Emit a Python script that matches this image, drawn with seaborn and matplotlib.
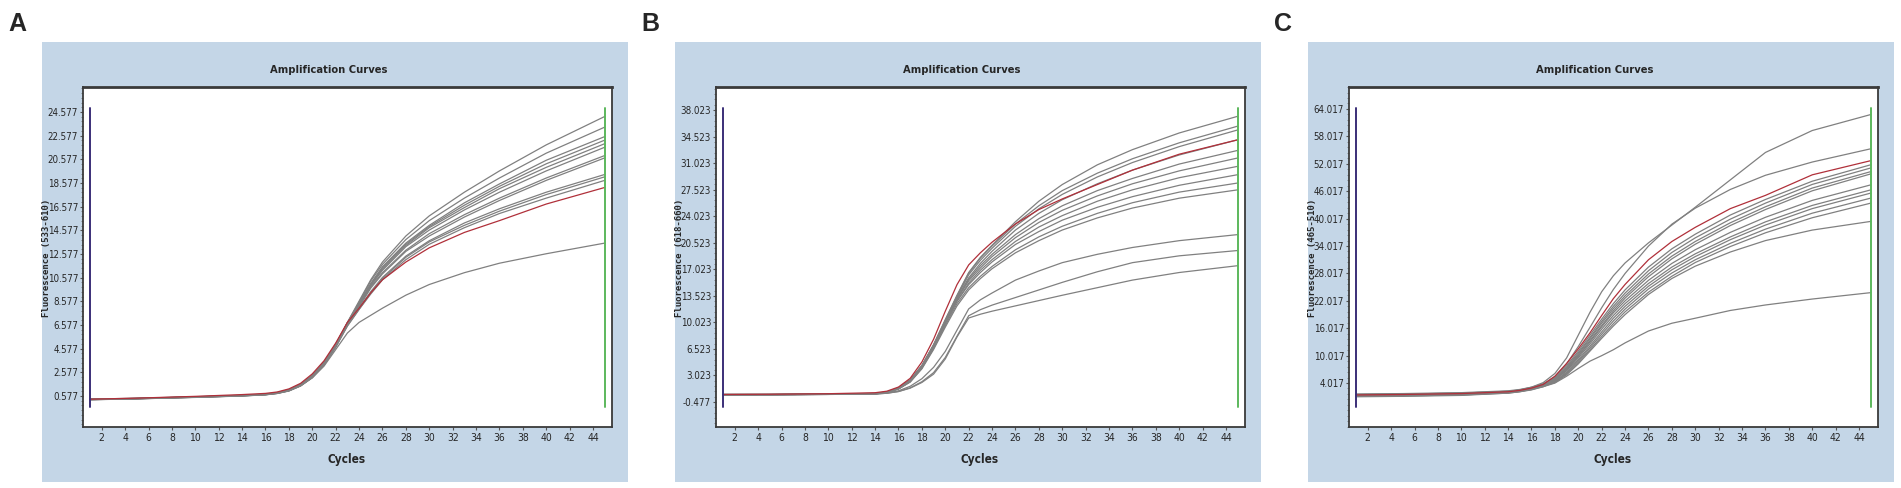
import numpy as np
import pandas as pd
import seaborn as sns
import matplotlib.pyplot as plt
from matplotlib.patches import Rectangle
from matplotlib.ticker import FixedLocator, AutoMinorLocator, FuncFormatter

# ---- panel A (533-610) ----
cycles_a = [1, 5, 10, 14, 16, 17, 18, 19, 20, 21, 22, 23, 24, 25, 26, 28, 30, 33, 36, 40, 45]
gray_a = [
    [0.28, 0.36, 0.48, 0.60, 0.70, 0.82, 1.05, 1.50, 2.25, 3.35, 4.90, 6.80, 8.6, 10.4, 11.9, 14.1, 15.8, 17.8, 19.6, 21.8, 24.2],
    [0.30, 0.37, 0.50, 0.62, 0.72, 0.84, 1.08, 1.52, 2.28, 3.38, 4.92, 6.78, 8.5, 10.3, 11.7, 13.8, 15.4, 17.3, 19.0, 21.1, 23.3],
    [0.26, 0.34, 0.47, 0.59, 0.69, 0.80, 1.02, 1.46, 2.20, 3.30, 4.85, 6.72, 8.4, 10.1, 11.5, 13.5, 15.0, 16.9, 18.5, 20.5, 22.5],
    [0.31, 0.38, 0.51, 0.63, 0.73, 0.86, 1.10, 1.55, 2.30, 3.40, 4.95, 6.75, 8.4, 10.0, 11.4, 13.4, 14.9, 16.7, 18.3, 20.2, 22.2],
    [0.29, 0.36, 0.49, 0.61, 0.71, 0.83, 1.06, 1.49, 2.22, 3.32, 4.86, 6.70, 8.3, 10.0, 11.3, 13.3, 14.8, 16.5, 18.1, 19.9, 21.9],
    [0.27, 0.35, 0.48, 0.60, 0.70, 0.81, 1.03, 1.45, 2.16, 3.24, 4.78, 6.64, 8.3, 9.9, 11.2, 13.2, 14.6, 16.3, 17.8, 19.6, 21.6],
    [0.32, 0.39, 0.52, 0.64, 0.74, 0.87, 1.12, 1.58, 2.34, 3.44, 4.96, 6.70, 8.2, 9.8, 11.0, 12.9, 14.3, 15.9, 17.3, 19.0, 20.9],
    [0.28, 0.35, 0.47, 0.59, 0.68, 0.79, 1.00, 1.42, 2.12, 3.18, 4.72, 6.58, 8.1, 9.7, 10.9, 12.8, 14.1, 15.7, 17.1, 18.8, 20.7],
    [0.30, 0.37, 0.50, 0.62, 0.72, 0.85, 1.09, 1.53, 2.26, 3.34, 4.84, 6.60, 8.0, 9.4, 10.6, 12.4, 13.7, 15.2, 16.4, 17.8, 19.3],
    [0.29, 0.36, 0.49, 0.61, 0.71, 0.83, 1.05, 1.47, 2.18, 3.24, 4.74, 6.52, 7.9, 9.3, 10.5, 12.3, 13.6, 15.0, 16.2, 17.6, 19.1],
    [0.27, 0.34, 0.46, 0.58, 0.68, 0.80, 1.02, 1.44, 2.14, 3.20, 4.70, 6.48, 7.9, 9.2, 10.4, 12.1, 13.4, 14.8, 16.0, 17.3, 18.8],
    [0.30, 0.37, 0.50, 0.62, 0.72, 0.84, 1.06, 1.46, 2.12, 3.10, 4.50, 5.90, 6.8, 7.4, 8.0, 9.1, 10.0, 11.0, 11.8, 12.6, 13.5],
]
red_a = [0.31, 0.40, 0.55, 0.70, 0.80, 0.92, 1.18, 1.65, 2.45, 3.55, 5.05, 6.80, 8.0, 9.3, 10.4, 11.9, 13.1, 14.4, 15.4, 16.8, 18.2]
ylabel_a = "Fluorescence (533-610)"
yticks_a = (0.577, 2.0, 13)
ylim_a = (-2.04, 26.69)

# ---- panel B (618-660) ----
cycles_b = [1, 5, 10, 14, 15, 16, 17, 18, 19, 20, 21, 22, 23, 24, 26, 28, 30, 33, 36, 40, 45]
gray_b = [
    [0.48, 0.50, 0.54, 0.62, 0.82, 1.35, 2.40, 4.30, 7.10, 10.40, 13.60, 16.6, 18.6, 20.2, 23.3, 26.0, 28.2, 30.8, 32.8, 35.0, 37.2],
    [0.52, 0.52, 0.57, 0.65, 0.85, 1.38, 2.42, 4.32, 7.05, 10.30, 13.50, 16.5, 18.5, 20.1, 23.0, 25.4, 27.4, 29.7, 31.6, 33.7, 35.9],
    [0.46, 0.48, 0.52, 0.60, 0.78, 1.28, 2.28, 4.15, 6.90, 10.15, 13.35, 16.3, 18.2, 19.8, 22.7, 25.0, 26.9, 29.2, 31.1, 33.2, 35.4],
    [0.50, 0.51, 0.56, 0.63, 0.80, 1.30, 2.30, 4.18, 6.92, 10.10, 13.20, 15.9, 17.8, 19.4, 22.2, 24.4, 26.2, 28.3, 30.1, 32.1, 34.1],
    [0.49, 0.50, 0.55, 0.61, 0.79, 1.27, 2.25, 4.10, 6.85, 10.00, 13.05, 15.7, 17.5, 19.0, 21.6, 23.7, 25.4, 27.4, 29.0, 30.9, 32.7],
    [0.53, 0.54, 0.58, 0.66, 0.86, 1.40, 2.45, 4.35, 7.00, 10.10, 13.10, 15.5, 17.2, 18.7, 21.2, 23.2, 24.8, 26.7, 28.3, 30.0, 31.7],
    [0.47, 0.49, 0.53, 0.60, 0.77, 1.25, 2.20, 4.00, 6.70, 9.85, 12.85, 15.2, 16.9, 18.3, 20.7, 22.6, 24.1, 26.0, 27.5, 29.1, 30.6],
    [0.51, 0.52, 0.56, 0.64, 0.83, 1.33, 2.33, 4.20, 6.85, 9.90, 12.80, 15.0, 16.6, 18.0, 20.3, 22.0, 23.5, 25.2, 26.6, 28.1, 29.5],
    [0.50, 0.50, 0.55, 0.62, 0.80, 1.28, 2.22, 4.00, 6.60, 9.60, 12.50, 14.6, 16.1, 17.4, 19.6, 21.3, 22.7, 24.4, 25.8, 27.2, 28.4],
    [0.48, 0.49, 0.53, 0.61, 0.78, 1.24, 2.15, 3.90, 6.45, 9.40, 12.20, 14.3, 15.8, 17.1, 19.2, 20.8, 22.2, 23.8, 25.1, 26.4, 27.5],
    [0.50, 0.50, 0.54, 0.60, 0.72, 1.00, 1.60, 2.60, 4.10, 6.20, 9.00, 11.8, 13.0, 13.9, 15.6, 16.8, 17.9, 19.0, 19.9, 20.8, 21.6],
    [0.49, 0.49, 0.53, 0.58, 0.68, 0.92, 1.40, 2.20, 3.40, 5.40, 8.20, 10.9, 11.7, 12.3, 13.3, 14.3, 15.3, 16.7, 17.9, 18.8, 19.5],
    [0.51, 0.51, 0.55, 0.59, 0.68, 0.90, 1.35, 2.10, 3.20, 5.20, 8.10, 10.6, 11.1, 11.5, 12.2, 12.9, 13.6, 14.6, 15.6, 16.6, 17.5],
]
red_b = [0.52, 0.55, 0.62, 0.75, 0.95, 1.50, 2.65, 4.80, 7.80, 11.50, 15.00, 17.6, 19.2, 20.6, 23.0, 24.9, 26.3, 28.2, 30.1, 32.2, 34.1]
ylabel_b = "Fluorescence (618-660)"
yticks_b = (-0.477, 3.5, 12)
ylim_b = (-3.77, 41.06)

# ---- panel C (465-510) ----
cycles_c = [1, 5, 10, 14, 15, 16, 17, 18, 19, 20, 21, 22, 23, 24, 26, 28, 30, 33, 36, 40, 45]
gray_c = [
    [1.3, 1.4, 1.6, 2.1, 2.5, 3.1, 4.1, 6.1, 9.5, 14.5, 19.5, 24.0, 27.5, 30.3, 34.7, 38.6, 42.5, 48.5, 54.5, 59.3, 62.8],
    [1.2, 1.3, 1.5, 2.0, 2.3, 2.9, 3.8, 5.4, 8.2, 12.0, 16.2, 20.5, 24.5, 28.0, 34.0, 38.8, 42.3, 46.4, 49.5, 52.4, 55.3],
    [1.1, 1.2, 1.4, 1.9, 2.2, 2.7, 3.5, 5.2, 7.8, 11.0, 14.5, 18.0, 21.4, 24.4, 29.4, 33.4, 36.6, 40.8, 44.2, 48.2, 51.8],
    [1.5, 1.6, 1.8, 2.2, 2.5, 3.0, 3.8, 5.0, 7.5, 10.6, 14.0, 17.5, 20.8, 23.7, 28.6, 32.6, 35.8, 39.9, 43.4, 47.5, 51.1],
    [1.3, 1.4, 1.6, 2.0, 2.3, 2.8, 3.6, 4.9, 7.3, 10.3, 13.7, 17.1, 20.3, 23.1, 27.9, 31.8, 35.0, 39.1, 42.6, 46.7, 50.3],
    [1.0, 1.1, 1.3, 1.8, 2.1, 2.6, 3.4, 4.8, 7.1, 10.0, 13.3, 16.6, 19.8, 22.6, 27.3, 31.2, 34.4, 38.5, 42.0, 46.1, 49.8],
    [1.6, 1.7, 1.9, 2.3, 2.6, 3.1, 3.8, 4.7, 6.9, 9.8, 13.0, 16.3, 19.4, 22.0, 26.5, 30.2, 33.2, 37.0, 40.3, 44.0, 47.4],
    [1.2, 1.3, 1.5, 1.9, 2.2, 2.7, 3.4, 4.6, 6.7, 9.5, 12.6, 15.8, 18.8, 21.4, 25.8, 29.4, 32.3, 36.0, 39.3, 42.9, 46.3],
    [1.4, 1.5, 1.7, 2.1, 2.4, 2.8, 3.5, 4.4, 6.4, 9.1, 12.1, 15.2, 18.2, 20.8, 25.2, 28.8, 31.7, 35.4, 38.6, 42.2, 45.6],
    [1.1, 1.2, 1.4, 1.8, 2.1, 2.5, 3.2, 4.3, 6.2, 8.8, 11.7, 14.7, 17.6, 20.2, 24.6, 28.1, 31.0, 34.6, 37.7, 41.2, 44.5],
    [1.5, 1.6, 1.8, 2.2, 2.4, 2.8, 3.4, 4.2, 6.0, 8.5, 11.3, 14.2, 17.0, 19.6, 23.9, 27.4, 30.4, 33.9, 36.9, 40.2, 43.4],
    [1.3, 1.4, 1.6, 2.0, 2.3, 2.7, 3.3, 4.1, 5.8, 8.2, 11.0, 13.8, 16.5, 19.0, 23.4, 26.9, 29.6, 32.7, 35.2, 37.5, 39.4],
    [1.2, 1.3, 1.5, 1.9, 2.2, 2.6, 3.2, 4.0, 5.5, 7.2, 8.8, 10.0, 11.3, 12.8, 15.4, 17.1, 18.2, 19.9, 21.1, 22.4, 23.8],
]
red_c = [1.4, 1.5, 1.7, 2.1, 2.4, 2.9, 3.7, 5.5, 8.3, 11.5, 15.0, 18.8, 22.5, 25.6, 31.0, 35.0, 38.1, 42.2, 45.1, 49.6, 52.7]
ylabel_c = "Fluorescence (465-510)"
yticks_c = (4.017, 6.0, 11)
ylim_c = (-5.62, 68.83)

xticks = list(range(2, 46, 2))
letters = ["A", "B", "C"]
title = "Amplification Curves"
xlabel = "Cycles"

W, H = 1901, 488
PANEL_BG = "#c4d6e7"
GRAY = "#808080"
RED = "#b0303a"
NARROW = ["Liberation Sans Narrow", "DejaVu Sans"]


def long_frame(cycles, gray, red):
    rows = []
    for i, vals in enumerate(gray):
        for c, v in zip(cycles, vals):
            rows.append((c, v, "well%02d" % i))
    for c, v in zip(cycles, red):
        rows.append((c, v, "red"))
    return pd.DataFrame(rows, columns=["cycle", "fluor", "well"])


sns.set_theme(style="white")
plt.rcParams["font.family"] = NARROW
plt.rcParams["font.stretch"] = "condensed"

fig = plt.figure(figsize=(W / 100, H / 100), dpi=100)
fig.patch.set_facecolor("white")

panels = [
    (cycles_a, gray_a, red_a, ylabel_a, yticks_a, ylim_a),
    (cycles_b, gray_b, red_b, ylabel_b, yticks_b, ylim_b),
    (cycles_c, gray_c, red_c, ylabel_c, yticks_c, ylim_c),
]
offsets = [0, 633, 1266]

# blue panel backgrounds sit behind everything
bg = fig.add_axes([0, 0, 1, 1], zorder=-5)
bg.set_axis_off()
bg.set_xlim(0, W)
bg.set_ylim(H, 0)
for dx in offsets:
    bg.add_patch(Rectangle((42 + dx, 42), 586, 440, facecolor=PANEL_BG, edgecolor="none"))

for k, (cyc, gray, red, ylab, ytk, ylim) in enumerate(panels):
    dx = offsets[k]
    ax = fig.add_axes([(83 + dx) / W, (H - 427) / H, 529 / W, 340 / H], zorder=2)
    ax.set_facecolor("white")

    df = long_frame(cyc, gray, red)
    wells = [w for w in df["well"].unique() if w != "red"] + ["red"]
    pal = {w: (RED if w == "red" else GRAY) for w in wells}
    sns.lineplot(data=df, x="cycle", y="fluor", hue="well", hue_order=wells,
                 palette=pal, estimator=None, sort=False, linewidth=0.9,
                 legend=False, ax=ax)

    ax.axvline(cyc[0], ymin=0.059, ymax=0.938, color="#3b2f78", lw=1.4)
    ax.axvline(cyc[-1], ymin=0.059, ymax=0.938, color="#5cb85c", lw=1.4)

    ax.set_xlim(0.40, 45.62)
    ax.set_ylim(*ylim)
    start, step, n = ytk
    ax.yaxis.set_major_locator(FixedLocator(start + step * np.arange(n)))
    ax.yaxis.set_major_formatter(FuncFormatter(lambda v, p: "%.3f" % v))
    ax.yaxis.set_minor_locator(AutoMinorLocator(5))
    ax.set_xticks(xticks)
    ax.tick_params(axis="both", which="major", direction="out", length=2.5,
                   width=0.8, color="#555555", labelsize=7, pad=1, bottom=True, left=True)
    ax.tick_params(axis="x", which="major", labelsize=7.5, pad=2)
    ax.tick_params(axis="y", which="minor", direction="out", length=1.5,
                   width=0.6, color="#777777", left=True)
    ax.set_xlabel("")
    ax.set_ylabel("")
    for s in ax.spines.values():
        s.set_color("#3a3a3a")
        s.set_linewidth(1.3)
    ax.spines["top"].set_linewidth(2.0)

    fig.text((329 + dx) / W, (H - 70) / H, title, ha="center", va="center",
             fontsize=8, fontweight="bold", family=NARROW)
    fig.text((347 + dx) / W, (H - 460) / H, xlabel, ha="center", va="center",
             fontsize=8.5, fontweight="bold", family=NARROW)
    fig.text((46 + dx) / W, (H - 258) / H, ylab, ha="center", va="center",
             rotation=90, fontsize=6.5, fontweight="bold", stretch="normal",
             family=["DejaVu Sans Mono", "DejaVu Sans"])
    fig.text((8 + dx) / W, (H - 24) / H, letters[k], ha="left", va="center",
             fontsize=18, fontweight="bold", stretch="normal",
             family=["Liberation Sans", "DejaVu Sans"])

fig.savefig("out.png", dpi=100, facecolor="white")
